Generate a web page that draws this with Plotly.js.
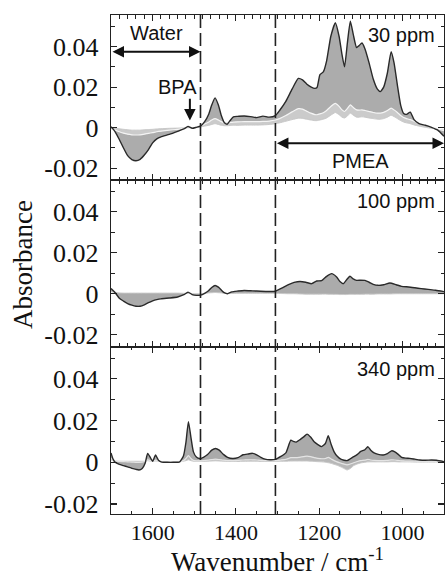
<!DOCTYPE html>
<html><head><meta charset="utf-8">
<script src="https://cdn.plot.ly/plotly-3.0.1.min.js"></script>
<style>html,body{margin:0;padding:0;background:#fff}#chart{width:445px;height:572px}</style>
</head><body><div id="chart"></div>
<script>
// ---------- Panel 1 : 30 ppm ----------
var wn1 = [1700,1690,1680,1670,1660,1650,1640,1630,1620,1610,
           1600,1590,1580,1560,1540,1525,1515,1505,1495,1485,
           1475,1465,1458,1450,1442,1435,1428,1421,1414,1406,
           1395,1380,1365,1350,1335,1320,1305,1295,1280,1265,
           1250,1240,1230,1220,1210,1205,1198,1190,1182,1172,
           1161,1152,1145,1139,1132,1125,1118,1110,1104,1097,
           1090,1080,1070,1060,1053,1045,1036,1027,1020,1012,
           1004,997,990,981,972,960,945,930,915,900];
var final1 = [0.0005,-0.0020,-0.0058,-0.0100,-0.0138,-0.0157,-0.0163,-0.0156,-0.0135,-0.0108,
              -0.0075,-0.0055,-0.0045,-0.0033,-0.0018,-0.0006,0.0006,-0.0003,0.0002,0.0008,
              0.0030,0.0068,0.0112,0.0147,0.0112,0.0060,0.0026,0.0017,0.0035,0.0054,
              0.0056,0.0058,0.0055,0.0050,0.0057,0.0052,0.0060,0.0085,0.0130,0.0190,
              0.0243,0.0236,0.0216,0.0202,0.0194,0.0198,0.0262,0.0275,0.0330,0.0450,
              0.0518,0.0450,0.0360,0.0300,0.0420,0.0525,0.0460,0.0395,0.0405,0.0418,
              0.0390,0.0320,0.0240,0.0190,0.0178,0.0200,0.0270,0.0375,0.0320,0.0210,
              0.0110,0.0070,0.0066,0.0077,0.0040,0.0020,0.0012,0.0002,-0.0012,-0.0042];
var early1 = [-0.0005,-0.0012,-0.0020,-0.0027,-0.0032,-0.0035,-0.0036,-0.0035,-0.0032,-0.0028,
              -0.0024,-0.0020,-0.0017,-0.0012,-0.0008,-0.0004,0.0000,0.0000,0.0004,0.0008,
              0.0018,0.0028,0.0038,0.0045,0.0038,0.0030,0.0025,0.0024,0.0026,0.0028,
              0.0029,0.0030,0.0030,0.0030,0.0031,0.0033,0.0038,0.0045,0.0060,0.0078,
              0.0094,0.0092,0.0082,0.0072,0.0065,0.0064,0.0068,0.0074,0.0085,0.0105,
              0.0120,0.0105,0.0088,0.0080,0.0095,0.0113,0.0100,0.0088,0.0087,0.0088,
              0.0085,0.0080,0.0075,0.0072,0.0072,0.0076,0.0085,0.0097,0.0088,0.0075,
              0.0060,0.0050,0.0045,0.0040,0.0032,0.0022,0.0012,0.0003,-0.0006,-0.0015];
var low1 = [0.0000,-0.0002,-0.0005,-0.0008,-0.0010,-0.0012,-0.0012,-0.0012,-0.0010,-0.0009,
            -0.0008,-0.0006,-0.0005,-0.0003,-0.0002,-0.0001,0.0000,0.0000,0.0002,0.0004,
            0.0008,0.0012,0.0016,0.0020,0.0016,0.0012,0.0010,0.0010,0.0011,0.0012,
            0.0012,0.0013,0.0013,0.0013,0.0014,0.0016,0.0020,0.0024,0.0032,0.0040,
            0.0047,0.0046,0.0042,0.0038,0.0035,0.0035,0.0038,0.0042,0.0048,0.0062,
            0.0075,0.0064,0.0052,0.0048,0.0058,0.0072,0.0062,0.0052,0.0052,0.0054,
            0.0052,0.0048,0.0045,0.0042,0.0042,0.0045,0.0052,0.0062,0.0055,0.0045,
            0.0035,0.0028,0.0024,0.0020,0.0014,0.0008,0.0002,-0.0003,-0.0007,-0.0012];

// ---------- Panel 2 : 100 ppm ----------
var wn2 = [1700,1690,1680,1670,1660,1650,1640,1630,1620,1610,
           1600,1590,1580,1560,1540,1525,1515,1505,1495,1485,
           1475,1465,1458,1450,1442,1435,1428,1420,1410,1395,
           1380,1360,1340,1320,1305,1290,1275,1260,1246,1232,
           1218,1206,1194,1182,1170,1158,1150,1142,1134,1126,
           1118,1110,1100,1090,1080,1070,1058,1045,1030,1015,
           1002,985,970,955,938,920,900];
var final2 = [0.0025,0.0005,-0.0022,-0.0036,-0.0048,-0.0056,-0.0061,-0.0061,-0.0054,-0.0044,
              -0.0035,-0.0029,-0.0025,-0.0021,-0.0016,-0.0005,0.0008,-0.0004,-0.0008,-0.0007,
              0.0002,0.0016,0.0030,0.0040,0.0032,0.0018,0.0005,0.0000,0.0009,0.0013,
              0.0016,0.0014,0.0012,0.0011,0.0012,0.0027,0.0043,0.0055,0.0060,0.0056,
              0.0049,0.0062,0.0064,0.0085,0.0098,0.0082,0.0060,0.0049,0.0068,0.0085,
              0.0072,0.0065,0.0066,0.0065,0.0056,0.0046,0.0041,0.0044,0.0052,0.0044,
              0.0036,0.0033,0.0029,0.0025,0.0021,0.0017,0.0010];
var low2 = [0.0010,0.0006,0.0004,0.0003,0.0003,0.0003,0.0003,0.0003,0.0003,0.0003,
            0.0003,0.0003,0.0003,0.0003,0.0003,0.0002,0.0002,0.0000,0.0000,0.0000,
            0.0002,0.0004,0.0005,0.0006,0.0005,0.0004,0.0002,0.0001,0.0001,0.0002,
            0.0002,0.0002,0.0002,0.0002,0.0002,0.0001,0.0000,0.0000,-0.0001,-0.0002,
            -0.0002,-0.0002,-0.0002,-0.0002,-0.0003,-0.0003,-0.0004,-0.0004,-0.0004,-0.0003,
            -0.0003,-0.0003,-0.0003,-0.0002,-0.0002,-0.0002,-0.0001,-0.0001,-0.0001,0.0000,
            0.0000,0.0000,0.0000,0.0000,0.0000,0.0000,0.0000];

// ---------- Panel 3 : 340 ppm ----------
var wn3 = [1700,1695,1690,1680,1670,1660,1650,1640,1633,1625,
           1618,1612,1606,1600,1593,1586,1578,1565,1550,1535,
           1526,1520,1514,1508,1502,1495,1487,1478,1468,1458,
           1449,1440,1430,1420,1408,1395,1383,1370,1360,1350,
           1340,1330,1318,1305,1292,1280,1268,1262,1255,1245,
           1237,1229,1220,1212,1203,1194,1185,1178,1171,1164,
           1157,1148,1140,1133,1125,1117,1108,1100,1090,1083,
           1076,1068,1058,1046,1036,1026,1018,1010,1002,992,
           982,970,958,945,930,918,900];
var final3 = [0.0045,0.0015,0.0000,-0.0010,-0.0016,-0.0022,-0.0029,-0.0034,-0.0037,-0.0030,
              -0.0005,0.0043,0.0025,0.0005,0.0035,0.0010,0.0001,0.0000,0.0000,0.0002,
              0.0030,0.0095,0.0195,0.0120,0.0050,0.0025,0.0018,0.0024,0.0037,0.0058,
              0.0066,0.0058,0.0038,0.0024,0.0018,0.0022,0.0036,0.0040,0.0043,0.0036,
              0.0024,0.0015,0.0012,0.0014,0.0028,0.0045,0.0106,0.0100,0.0097,0.0110,
              0.0122,0.0135,0.0120,0.0098,0.0085,0.0075,0.0090,0.0127,0.0085,0.0050,
              0.0030,0.0015,0.0010,0.0008,0.0017,0.0027,0.0038,0.0052,0.0060,0.0075,
              0.0058,0.0045,0.0038,0.0035,0.0042,0.0055,0.0050,0.0038,0.0024,0.0020,
              0.0019,0.0015,0.0011,0.0010,0.0011,0.0010,0.0003];
var early3 = [0.0018,0.0010,0.0006,0.0004,0.0003,0.0002,0.0001,0.0000,0.0000,0.0001,
              0.0004,0.0012,0.0008,0.0004,0.0010,0.0005,0.0003,0.0003,0.0003,0.0003,
              0.0008,0.0018,0.0032,0.0018,0.0009,0.0007,0.0007,0.0008,0.0010,0.0013,
              0.0015,0.0013,0.0010,0.0008,0.0008,0.0009,0.0011,0.0012,0.0012,0.0011,
              0.0009,0.0008,0.0008,0.0008,0.0011,0.0014,0.0022,0.0022,0.0022,0.0025,
              0.0027,0.0030,0.0027,0.0022,0.0019,0.0017,0.0018,0.0024,0.0016,0.0008,
              0.0002,-0.0004,-0.0009,-0.0012,-0.0008,-0.0002,0.0004,0.0008,0.0010,0.0014,
              0.0011,0.0009,0.0008,0.0008,0.0009,0.0012,0.0011,0.0009,0.0007,0.0006,
              0.0006,0.0005,0.0004,0.0004,0.0004,0.0004,0.0002];
var low3 = [0.0012,0.0008,0.0006,0.0005,0.0005,0.0005,0.0005,0.0005,0.0005,0.0005,
            0.0005,0.0008,0.0006,0.0005,0.0006,0.0005,0.0004,0.0004,0.0004,0.0004,
            0.0005,0.0008,0.0012,0.0008,0.0005,0.0004,0.0004,0.0004,0.0005,0.0006,
            0.0007,0.0006,0.0005,0.0004,0.0004,0.0004,0.0005,0.0005,0.0005,0.0005,
            0.0004,0.0004,0.0004,0.0004,0.0005,0.0005,0.0006,0.0006,0.0006,0.0006,
            0.0006,0.0006,0.0005,0.0004,0.0003,0.0002,0.0000,-0.0002,-0.0005,-0.0010,
            -0.0014,-0.0022,-0.0030,-0.0037,-0.0030,-0.0016,-0.0008,-0.0003,0.0000,0.0002,
            0.0002,0.0002,0.0002,0.0002,0.0002,0.0003,0.0003,0.0002,0.0002,0.0002,
            0.0002,0.0001,0.0001,0.0001,0.0001,0.0001,0.0000];

// ---------- labels ----------
var panelLabels = ['30 ppm', '100 ppm', '340 ppm'];
var yTickVals = [-0.02, 0, 0.02, 0.04];
var yTickText = ['-0.02', '0', '0.02', '0.04'];
var regionLines = [1485, 1305];

var SERIF = 'Liberation Serif, Times New Roman, serif';
var SANS = 'Liberation Sans, Arial, sans-serif';
var INK = '#222';

function lineTr(x, y, xa, ya, color, width, fill, fillcolor) {
  var t = {x: x, y: y, xaxis: xa, yaxis: ya, mode: 'lines', hoverinfo: 'skip', showlegend: false,
           line: {color: color, width: width, shape: 'spline', smoothing: 0.5}};
  if (fill) { t.fill = fill; t.fillcolor = fillcolor; }
  return t;
}

var data = [
  lineTr(wn1, low1, 'x', 'y', '#c8c8c8', 1),
  lineTr(wn1, early1, 'x', 'y', '#f4f4f4', 1.2, 'tonexty', '#cbcbcb'),
  lineTr(wn1, final1, 'x', 'y', '#2a2a2a', 1.4, 'tonexty', '#acacac'),
  lineTr(wn2, low2, 'x2', 'y2', '#c8c8c8', 1),
  lineTr(wn2, final2, 'x2', 'y2', '#2a2a2a', 1.4, 'tonexty', '#ababab'),
  lineTr(wn3, low3, 'x3', 'y3', '#c8c8c8', 1),
  lineTr(wn3, early3, 'x3', 'y3', '#e4e4e4', 1.2, 'tonexty', '#b8b8b8'),
  lineTr(wn3, final3, 'x3', 'y3', '#2a2a2a', 1.4, 'tonexty', '#aaaaaa')
];

function xAx(anchor, showLabels, minorDt) {
  return {anchor: anchor, domain: [0, 1], range: [1700, 900], autorange: false,
          tickmode: 'linear', tick0: 0, dtick: 200, ticks: 'inside', ticklen: 6, tickwidth: 1.2,
          tickcolor: INK, showline: true, linecolor: INK, linewidth: 1.3, mirror: 'allticks',
          showgrid: false, zeroline: false, showticklabels: showLabels,
          ticklabelstandoff: -2,
          tickfont: {family: SERIF, size: 22, color: '#111'},
          minor: {tickmode: 'linear', tick0: 0, dtick: minorDt, ticks: 'inside', ticklen: 3.5,
                  tickwidth: 1, tickcolor: INK, showgrid: false}};
}
function yAx(anchor, dom, rng) {
  return {anchor: anchor, domain: dom, range: rng, autorange: false,
          tickmode: 'array', tickvals: yTickVals, ticktext: yTickText,
          ticks: 'inside', ticklen: 6, tickwidth: 1.2, tickcolor: INK,
          showline: true, linecolor: INK, linewidth: 1.3, mirror: 'allticks',
          showgrid: false, zeroline: false, ticklabelstandoff: 6,
          tickfont: {family: SERIF, size: 26, color: '#111'},
          minor: {tickmode: 'linear', tick0: 0, dtick: 0.01, ticks: 'inside', ticklen: 3.5,
                  tickwidth: 1, tickcolor: INK, showgrid: false}};
}

var txt = function (t, x, y, xr, yr, xanchor, size) {
  return {text: t, x: x, y: y, xref: xr, yref: yr, xanchor: xanchor || 'center', yanchor: 'middle',
          showarrow: false, font: {family: SANS, size: size || 20, color: '#111'}};
};
var arrow = function (x, y, ax, ay, both) {
  return {text: '', x: x, y: y, ax: ax, ay: ay, xref: 'x', yref: 'y', axref: 'x', ayref: 'y',
          showarrow: true, arrowhead: 2, arrowsize: 1.15, arrowwidth: 2, arrowcolor: '#111',
          arrowside: both ? 'end+start' : 'end', standoff: 0, startstandoff: 0};
};

var annotations = [
  txt('Water', 1590, 0.0465, 'x', 'y'),
  txt('BPA', 1540, 0.0203, 'x', 'y'),
  txt(panelLabels[0], 916, 0.0455, 'x', 'y', 'right'),
  txt('PMEA', 1101, -0.0164, 'x', 'y'),
  txt(panelLabels[1], 916, 0.0452, 'x2', 'y2', 'right'),
  txt(panelLabels[2], 916, 0.0447, 'x3', 'y3', 'right'),
  arrow(regionLines[0], 0.0375, 1700, 0.0375, true),
  arrow(900, -0.0077, regionLines[1], -0.0077, true),
  arrow(1510.5, 0.0035, 1510.5, 0.015, false),
  {text: 'Absorbance', x: -0.264, y: 0.499, xref: 'paper', yref: 'paper', xanchor: 'center',
   yanchor: 'middle', textangle: -90, showarrow: false, font: {family: SERIF, size: 27, color: '#111'}},
  {text: 'Wavenumber / cm<sup>-1</sup>', x: 0.5, y: -0.093, xref: 'paper', yref: 'paper',
   xanchor: 'center', yanchor: 'middle', showarrow: false, font: {family: SERIF, size: 27, color: '#111'}}
];

var shapes = regionLines.map(function (w) {
  return {type: 'line', xref: 'x', yref: 'paper', x0: w, x1: w, y0: 0, y1: 1,
          line: {color: '#222', width: 1.6, dash: '13px,5px'}};
});

var layout = {
  width: 445, height: 572,
  margin: {l: 111, r: 1, t: 15, b: 58},
  paper_bgcolor: '#fff', plot_bgcolor: '#fff',
  showlegend: false,
  xaxis: xAx('y', false, 20),
  xaxis2: xAx('y2', false, 20),
  xaxis3: xAx('y3', true, 50),
  yaxis: yAx('x', [0.6693, 1], [-0.0258, 0.0556]),
  yaxis2: yAx('x2', [0.3347, 0.6693], [-0.0260, 0.0555]),
  yaxis3: yAx('x3', [0, 0.3347], [-0.0248, 0.0553]),
  annotations: annotations,
  shapes: shapes
};

Plotly.newPlot('chart', data, layout, {displayModeBar: false, staticPlot: true});
</script></body></html>
